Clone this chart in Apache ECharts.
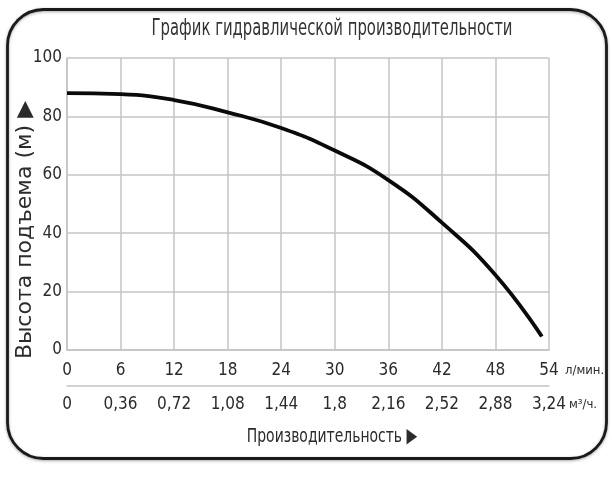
<!DOCTYPE html>
<html>
<head>
<meta charset="utf-8">
<script src="https://cdn.jsdelivr.net/npm/echarts@6/dist/echarts.min.js"></script>
<style>
html,body{margin:0;padding:0;background:#fff;}
#c{width:612px;height:482px;}
</style>
</head>
<body>
<div id="c"></div>
<script>
// Data
const flowLmin = [0, 6, 12, 18, 24, 30, 36, 42, 48, 53.2];
const headM = [88, 87.6, 85.6, 81.4, 76.0, 68.3, 58.2, 43.6, 25.7, 4.6];
const flowM3hLabels = ['0', '0,36', '0,72', '1,08', '1,44', '1,8', '2,16', '2,52', '2,88', '3,24'];
const titleText = 'График гидравлической производительности';
const yName = 'Высота подъема (м) ▶';
const xCaption = 'Производительность ▶';
const unit1 = 'л/мин.';
const unit2 = 'м³/ч.';

const NARROW = '"Liberation Sans Narrow", "DejaVu Sans Condensed", sans-serif';
const TXT = '#2b2b2b';
const GRID = '#c4c4c4';

const chart = echarts.init(document.getElementById('c'), null, {renderer: 'canvas'});
chart.setOption({
  backgroundColor: '#fff',
  animation: false,
  grid: {left: 67, right: 63, top: 58, bottom: 132, containLabel: false, outerBoundsMode: 'none'},
  xAxis: [
    {
      type: 'value', min: 0, max: 54, interval: 6, position: 'bottom',
      axisLine: {show: true, lineStyle: {color: GRID, width: 1.5}},
      axisTick: {show: false},
      splitLine: {show: true, lineStyle: {color: GRID, width: 1.5}},
      axisLabel: {color: TXT, fontFamily: NARROW, fontSize: 17, margin: 12}
    },
    {
      type: 'category', data: flowM3hLabels, boundaryGap: false, position: 'bottom', offset: 36,
      axisLine: {show: true, lineStyle: {color: GRID, width: 1.5}},
      axisTick: {show: false},
      splitLine: {show: false},
      axisLabel: {color: TXT, fontFamily: NARROW, fontSize: 17, margin: 10, interval: 0}
    }
  ],
  yAxis: {
    type: 'value', min: 0, max: 100, interval: 20,
    axisLine: {show: true, lineStyle: {color: GRID, width: 1.5}},
    axisTick: {show: false},
    splitLine: {show: true, lineStyle: {color: GRID, width: 1.5}},
    axisLabel: {color: TXT, fontFamily: NARROW, fontSize: 17, margin: 5}
  },
  series: [{
    type: 'line', xAxisIndex: 0,
    data: flowLmin.map((x, i) => [x, headM[i]]),
    smooth: 0.5, symbol: 'none',
    lineStyle: {color: '#0a0a0a', width: 3.8}
  }],
  graphic: [
    {
      type: 'rect', left: 5, top: 7, z: -1,
      shape: {width: 599, height: 449, r: 36},
      style: {fill: 'none', stroke: '#1a1a1a', lineWidth: 2.8, shadowBlur: 3, shadowColor: 'rgba(0,0,0,0.35)', shadowOffsetY: 1}
    },
    {
      type: 'text', x: 332, y: 29, scaleY: 1.35,
      style: {text: titleText, fill: '#333', font: '16.5px ' + NARROW, textAlign: 'center', textVerticalAlign: 'middle'}
    },
    {
      type: 'text', x: 332, y: 437, scaleY: 1.3,
      style: {text: xCaption, fill: TXT, font: '15.5px ' + NARROW, textAlign: 'center', textVerticalAlign: 'middle'}
    },
    {
      type: 'text', x: 25, y: 230, rotation: Math.PI / 2,
      style: {text: yName, fill: TXT, font: '22px "DejaVu Sans", sans-serif', textAlign: 'center', textVerticalAlign: 'middle'}
    },
    {
      type: 'text', x: 565, y: 371,
      style: {text: unit1, fill: TXT, font: '13px ' + NARROW, textAlign: 'left', textVerticalAlign: 'middle'}
    },
    {
      type: 'text', x: 569, y: 405,
      style: {text: unit2, fill: TXT, font: '13px ' + NARROW, textAlign: 'left', textVerticalAlign: 'middle'}
    }
  ]
});
</script>
</body>
</html>
